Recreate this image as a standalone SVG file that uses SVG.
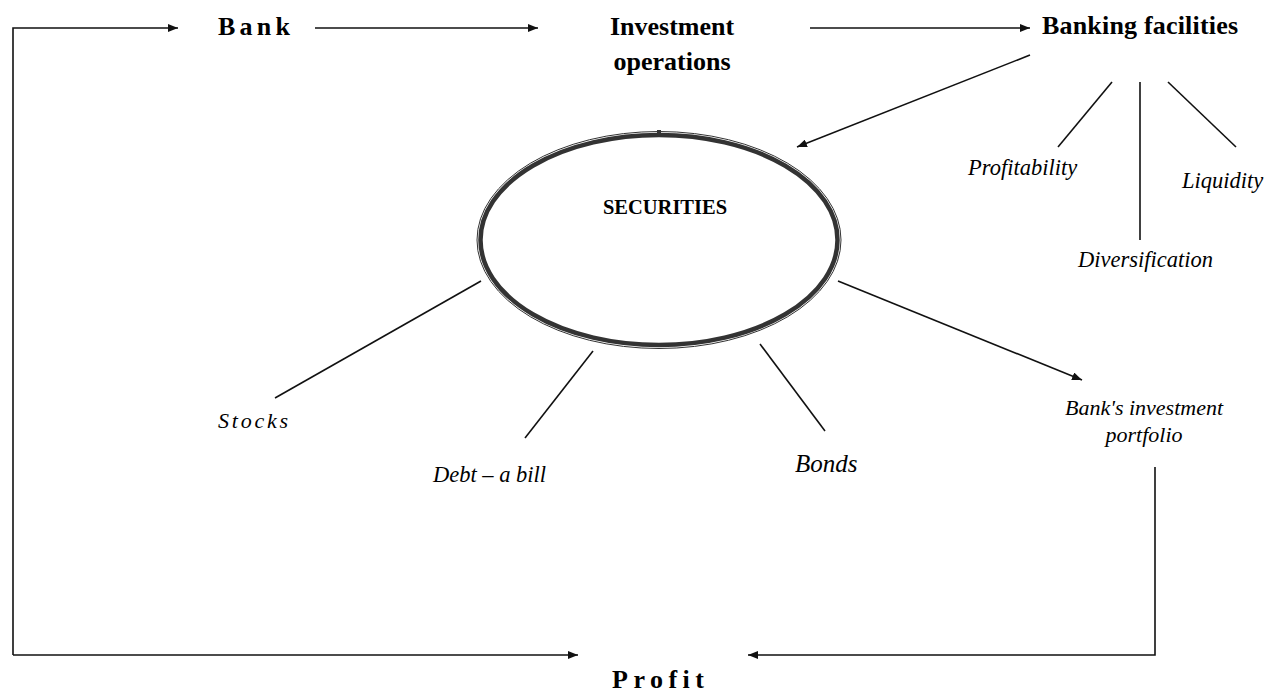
<svg xmlns="http://www.w3.org/2000/svg" width="1265" height="693" viewBox="0 0 1265 693">
<style>
.ln{fill:none;stroke:#111;stroke-width:1.6}
.b{font-family:"Liberation Serif","Times New Roman",serif;font-weight:bold;fill:#000}
.i{font-family:"Liberation Serif","Times New Roman",serif;font-style:italic;fill:#000}
</style>
<defs>
<marker id="ah" viewBox="0 0 10 8" refX="10" refY="4" markerWidth="10" markerHeight="8" markerUnits="userSpaceOnUse" orient="auto">
<path d="M0,0 L10,4 L0,8 Z" fill="#111"/>
</marker>
</defs>
<rect width="1265" height="693" fill="#fff"/>
<g id="connectors">
<path class="ln" d="M13,655 V28 H178" marker-end="url(#ah)"/>
<path class="ln" d="M13,655 H578" marker-end="url(#ah)"/>
<path class="ln" d="M315,28 H538" marker-end="url(#ah)"/>
<path class="ln" d="M810,28 H1030" marker-end="url(#ah)"/>
<path class="ln" d="M1030,55 L797,147" marker-end="url(#ah)"/>
<path class="ln" d="M1112,82 L1058,147"/>
<path class="ln" d="M1140,82 V240"/>
<path class="ln" d="M1168,82 L1236,147"/>
<path class="ln" d="M838,281 L1082,380" marker-end="url(#ah)"/>
<path class="ln" d="M481,281 L275,398"/>
<path class="ln" d="M593,351 L525,438"/>
<path class="ln" d="M760,344 L825,431"/>
<path class="ln" d="M1155,467 V655 H748" marker-end="url(#ah)"/>
</g>
<g id="bank"><text class="b" x="218" y="35" font-size="26" textLength="72">Bank</text></g>
<g id="investment"><text class="b" font-size="26" text-anchor="middle"><tspan x="672" y="35">Investment</tspan><tspan x="672" y="70">operations</tspan></text></g>
<g id="banking-facilities"><text class="b" x="1042" y="34" font-size="26" textLength="196">Banking facilities</text></g>
<g id="securities">
<ellipse cx="659" cy="240" rx="182" ry="108.5" fill="none" stroke="#333" stroke-width="1"/>
<ellipse cx="659" cy="240" rx="178.5" ry="105" fill="none" stroke="#333" stroke-width="4.5"/>
<rect x="657" y="130" width="4" height="5" fill="#333"/>
<text class="b" x="665" y="214" font-size="20.5" text-anchor="middle">SECURITIES</text>
</g>
<g id="profitability"><text class="i" x="968" y="175" font-size="22.5">Profitability</text></g>
<g id="diversification"><text class="i" x="1078" y="267" font-size="22.5">Diversification</text></g>
<g id="liquidity"><text class="i" x="1182" y="188" font-size="22.5">Liquidity</text></g>
<g id="stocks"><text class="i" x="218" y="428" font-size="22" textLength="70">Stocks</text></g>
<g id="debt"><text class="i" x="433" y="482" font-size="22.5">Debt – a bill</text></g>
<g id="bonds"><text class="i" x="795" y="472" font-size="25">Bonds</text></g>
<g id="portfolio"><text class="i" font-size="22" text-anchor="middle"><tspan x="1144" y="415">Bank's investment</tspan><tspan x="1144" y="442">portfolio</tspan></text></g>
<g id="profit"><text class="b" x="612" y="688" font-size="26" textLength="92">Profit</text></g>
</svg>
